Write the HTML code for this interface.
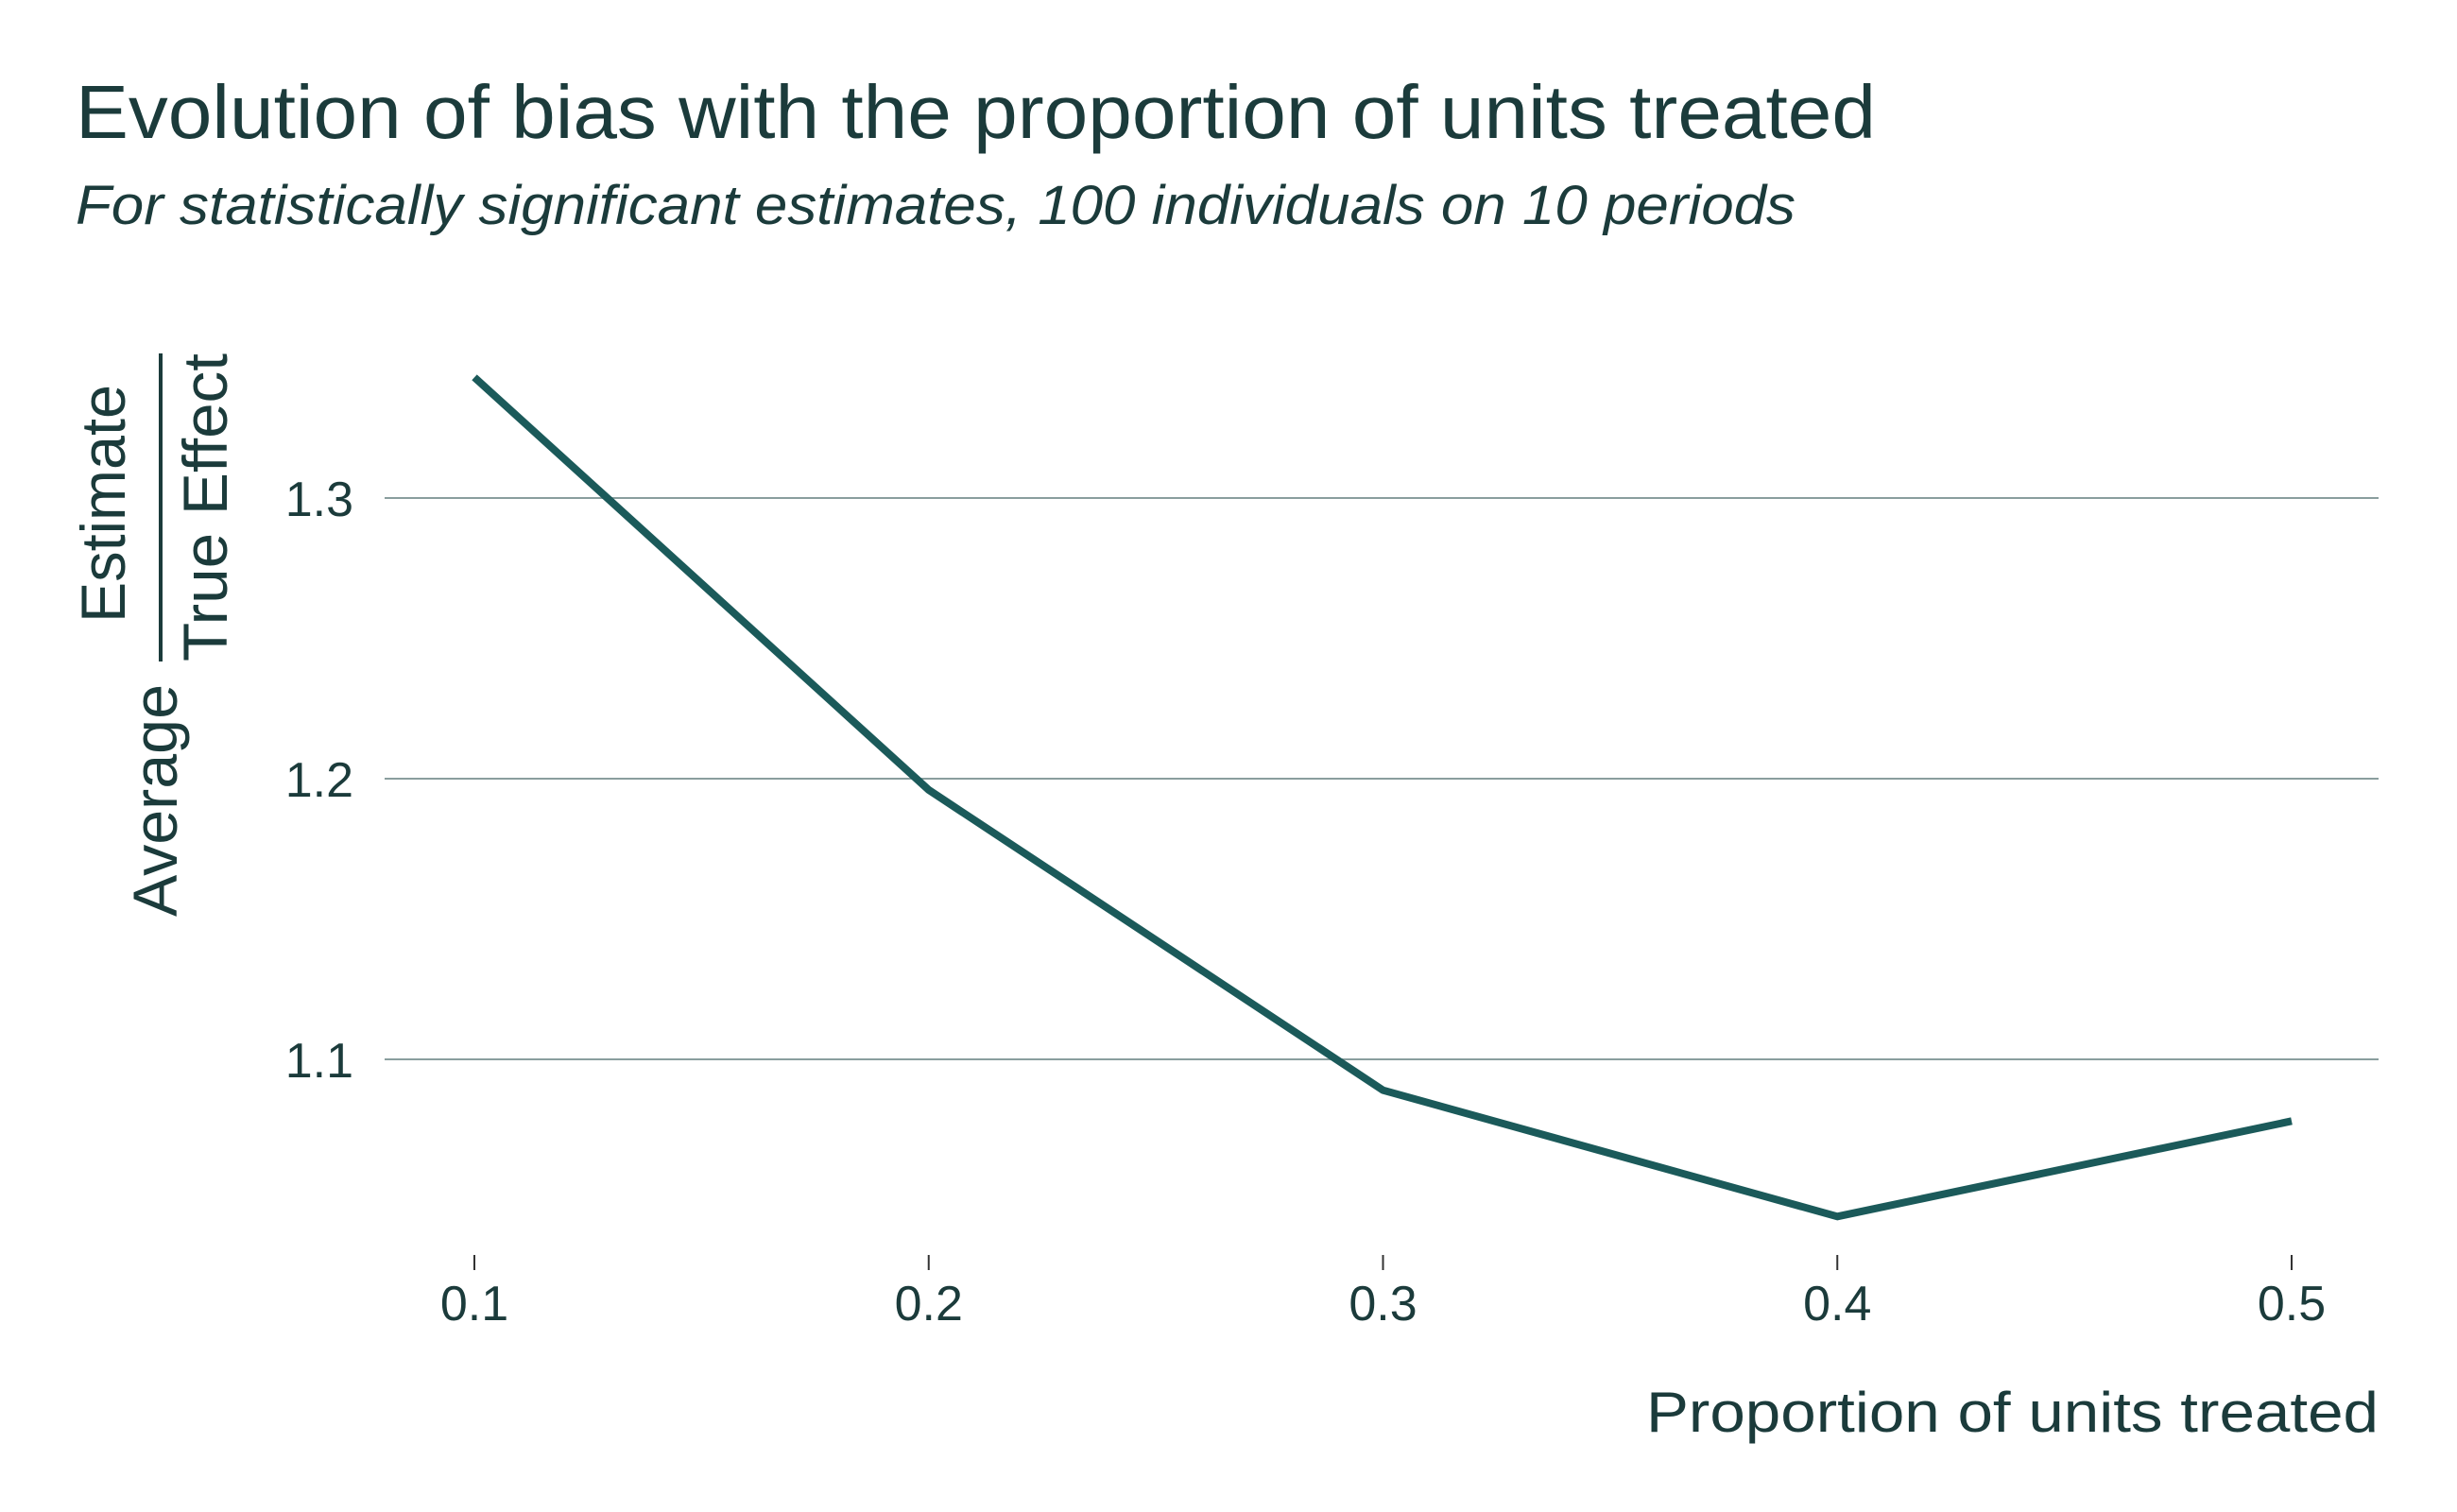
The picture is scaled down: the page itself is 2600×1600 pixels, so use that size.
<!DOCTYPE html>
<html><head><meta charset="utf-8"><style>
html,body{margin:0;padding:0;background:#fff;}
svg{display:block;font-family:"Liberation Sans",sans-serif;fill:#1b3b3b;}
</style></head><body>
<svg id="chart" width="2600" height="1600" viewBox="0 0 2600 1600" xmlns="http://www.w3.org/2000/svg">
<text x="80" y="146" font-size="80" textLength="1905" lengthAdjust="spacingAndGlyphs">Evolution of bias with the proportion of units treated</text>
<text x="80" y="237" font-size="58" font-style="italic" textLength="1820" lengthAdjust="spacingAndGlyphs">For statistically significant estimates, 100 individuals on 10 periods</text>
<g id="grid"></g>
<g id="xaxis"></g>
<g id="yaxis"></g>
<path id="line" fill="none" stroke="#1b5a5a" stroke-width="8" stroke-linejoin="round"/>
<text x="2517" y="1515" font-size="60" text-anchor="end" textLength="775" lengthAdjust="spacingAndGlyphs">Proportion of units treated</text>
<g>
<text transform="translate(187,970) rotate(-90)" font-size="66" textLength="246" lengthAdjust="spacingAndGlyphs">Average</text>
<text transform="translate(132,659) rotate(-90)" font-size="66" textLength="252" lengthAdjust="spacingAndGlyphs">Estimate</text>
<line x1="170" y1="374" x2="170" y2="700" stroke="#1b3b3b" stroke-width="4"/>
<text transform="translate(240,700) rotate(-90)" font-size="66" textLength="326" lengthAdjust="spacingAndGlyphs">True Effect</text>
</g>
</svg>
<script>
const categories = [0.1, 0.2, 0.3, 0.4, 0.5];
const values = [1.343, 1.196, 1.089, 1.044, 1.078];
const yTicks = [1.1, 1.2, 1.3];
const xTickLabels = ["0.1", "0.2", "0.3", "0.4", "0.5"];
const yTickLabels = ["1.1", "1.2", "1.3"];

const NS = "http://www.w3.org/2000/svg";
function xScale(v){ return 502 + (v - 0.1) / 0.4 * (2425 - 502); }
function yScale(v){ return 527 + (1.3 - v) / 0.1 * 297; }

const grid = document.getElementById('grid');
const yaxis = document.getElementById('yaxis');
yTicks.forEach((t, i) => {
  const l = document.createElementNS(NS, 'line');
  
  
  l.setAttribute('x1', 407); l.setAttribute('x2', 2517);
  l.setAttribute('y1', yScale(t)); l.setAttribute('y2', yScale(t));
  l.setAttribute('stroke', '#8a9e9e'); l.setAttribute('stroke-width', 2);
  grid.appendChild(l);
  const tx = document.createElementNS(NS, 'text');
  
  
  tx.setAttribute('x', 374); tx.setAttribute('y', yScale(t) + 19);
  tx.setAttribute('font-size', 52); tx.setAttribute('text-anchor', 'end');
  tx.textContent = yTickLabels[i];
  yaxis.appendChild(tx);
});
const xaxis = document.getElementById('xaxis');
categories.forEach((c, i) => {
  const l = document.createElementNS(NS, 'line');
  
  
  l.setAttribute('x1', xScale(c)); l.setAttribute('x2', xScale(c));
  l.setAttribute('y1', 1328); l.setAttribute('y2', 1344);
  l.setAttribute('stroke', '#333'); l.setAttribute('stroke-width', 2);
  xaxis.appendChild(l);
  const tx = document.createElementNS(NS, 'text');
  
  
  tx.setAttribute('x', xScale(c)); tx.setAttribute('y', 1397);
  tx.setAttribute('font-size', 52); tx.setAttribute('text-anchor', 'middle');
  tx.textContent = xTickLabels[i];
  xaxis.appendChild(tx);
});
document.getElementById('line').setAttribute('d',
  categories.map((c, i) => (i ? 'L' : 'M') + xScale(c) + ',' + yScale(values[i])).join(' '));
</script>
</body></html>
